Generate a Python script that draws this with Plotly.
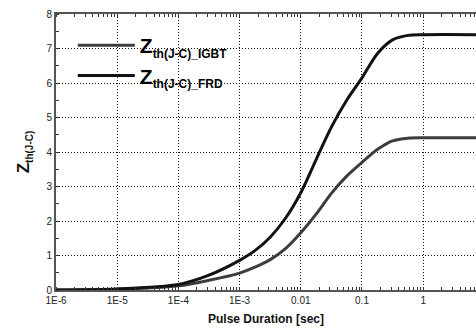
import plotly.graph_objects as go

# Pulse duration (s)
pulse_duration = [1e-6, 1e-5, 1e-4, 3.16e-4, 1e-3, 1.78e-3, 3.16e-3, 5.62e-3, 1e-2,
                  1.78e-2, 3.16e-2, 5.62e-2, 1e-1, 1.78e-1, 3.16e-1, 5.62e-1, 1.0, 10.0]
# Thermal impedance Zth(J-C)
zth_igbt = [0.0, 0.02, 0.12, 0.28, 0.49, 0.66, 0.88, 1.2, 1.66,
            2.2, 2.8, 3.3, 3.7, 4.07, 4.32, 4.4, 4.41, 4.41]
zth_frd = [0.0, 0.03, 0.16, 0.43, 0.86, 1.14, 1.53, 2.08, 2.82,
           3.78, 4.72, 5.5, 6.15, 6.85, 7.25, 7.38, 7.4, 7.4]

x_tickvals = [1e-6, 1e-5, 1e-4, 1e-3, 1e-2, 1e-1, 1]
x_ticktext = ["1E-6", "1E-5", "1E-4", "1E-3", "0.01", "0.1", "1"]
y_tickvals = [0, 1, 2, 3, 4, 5, 6, 7, 8]

def legend_label(sub):
    return '<b>Z</b><sub><span style="font-size:12px">' + sub + '</span></sub>'

fig = go.Figure()
fig.add_trace(go.Scatter(
    x=pulse_duration, y=zth_igbt, mode="lines",
    line=dict(color="#3d3d3d", width=3, shape="spline", smoothing=0.8),
    name=legend_label("th(J-C)_IGBT")))
fig.add_trace(go.Scatter(
    x=pulse_duration, y=zth_frd, mode="lines",
    line=dict(color="#111111", width=3, shape="spline", smoothing=0.8),
    name=legend_label("th(J-C)_FRD")))

FAM = "Liberation Sans, Arial, sans-serif"
axis_font = dict(family=FAM, size=10, color="#222")
grid_dash = "1px,2px"

fig.update_layout(
    width=476, height=331,
    margin=dict(l=56, r=0, t=14, b=41),
    paper_bgcolor="white", plot_bgcolor="white",
    font=dict(family=FAM, color="#111"),
    showlegend=True,
    legend=dict(x=0.04, y=0.96, xanchor="left", yanchor="top",
                bgcolor="rgba(0,0,0,0)", itemwidth=57,
                font=dict(family=FAM, size=21, color="#000", weight="bold"), tracegroupgap=0),
    xaxis=dict(
        type="log", range=[-6, 0.863],
        tickmode="array", tickvals=x_tickvals, ticktext=x_ticktext,
        tickfont=axis_font, ticks="", showgrid=True,
        gridcolor="#111", griddash=grid_dash, gridwidth=1,
        showline=True, linecolor="#555", linewidth=2, mirror="allticks",
        minor=dict(dtick="D1", ticks="inside", ticklen=3, tickcolor="#333", tickwidth=1, showgrid=False),
        title=dict(text="Pulse Duration [sec]",
                   font=dict(family=FAM, size=12, color="#111", weight="bold"), standoff=10),
        zeroline=False),
    yaxis=dict(
        range=[0, 8], tickmode="array", tickvals=y_tickvals,
        tickfont=axis_font, ticks="", showgrid=True,
        gridcolor="#111", griddash=grid_dash, gridwidth=1,
        showline=True, linecolor="#555", linewidth=2, mirror=False,
        minor=dict(dtick=0.5, ticks="inside", ticklen=3, tickcolor="#333", tickwidth=1, showgrid=False),
        title=dict(text='<b>Z</b><sub><span style="font-size:10px">th(J-C)</span></sub>',
                   font=dict(family=FAM, size=17, color="#111", weight="bold"), standoff=12),
        zeroline=False),
)

fig.write_html("out.html", config={"displayModeBar": False},
               post_script="document.body.style.margin='0';document.body.style.overflow='hidden';")
